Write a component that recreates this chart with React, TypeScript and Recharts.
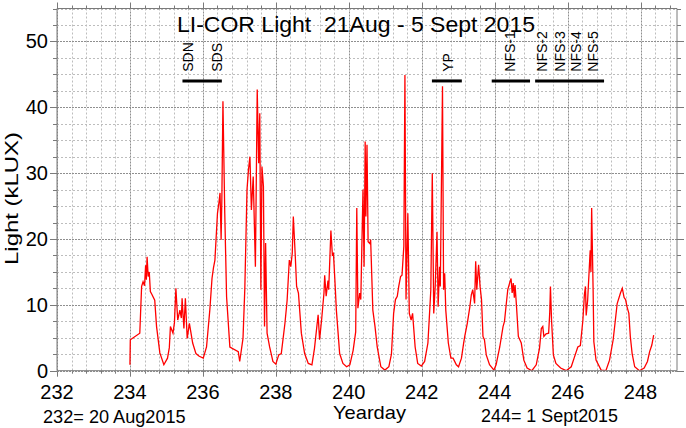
import React from "react";
import { LineChart, Line, XAxis, YAxis, ReferenceLine, ReferenceDot } from "recharts";

// [yearday, kLUX], one array per day
const day234: number[][] = [
  [234.0, 0.9], [234.01, 4.7], [234.27, 5.7], [234.32, 12.8], [234.36, 13.5], [234.4, 12.9],
  [234.43, 16.0], [234.45, 13.8], [234.47, 17.3], [234.5, 14.3], [234.53, 15.0], [234.56, 12.0],
  [234.6, 11.6], [234.68, 10.7], [234.73, 6.7], [234.82, 2.7], [234.93, 0.9],
];
const day235: number[][] = [
  [235.03, 1.9], [235.08, 3.5], [235.11, 6.7], [235.18, 5.7], [235.22, 7.3], [235.26, 12.5],
  [235.31, 7.7], [235.37, 9.2], [235.41, 8.0], [235.43, 11.0], [235.48, 6.4], [235.52, 11.0],
  [235.57, 4.9], [235.63, 7.2], [235.72, 4.2], [235.81, 2.6], [235.9, 2.2],
];
const day236: number[][] = [
  [236.01, 1.9], [236.1, 3.6], [236.19, 9.2], [236.25, 14.0], [236.29, 15.6], [236.33, 16.8],
  [236.4, 23.9], [236.44, 25.5], [236.47, 27.0], [236.5, 19.9], [236.52, 26.0], [236.55, 40.9],
  [236.6, 23.9], [236.65, 11.2], [236.74, 3.6], [236.97, 2.9],
];
const day237: number[][] = [
  [237.01, 1.4], [237.1, 4.9], [237.15, 12.5], [237.21, 27.5], [237.25, 30.5], [237.29, 32.5],
  [237.33, 24.4], [237.38, 29.5], [237.44, 15.8], [237.49, 42.7], [237.53, 31.5], [237.56, 39.1],
  [237.59, 12.3], [237.62, 31.0], [237.66, 28.0], [237.69, 6.7], [237.72, 19.4], [237.76, 5.7],
  [237.83, 3.6], [237.92, 1.4],
];
const day238: number[][] = [
  [238.0, 1.0], [238.08, 2.4], [238.15, 2.6], [238.25, 7.2], [238.31, 10.7], [238.37, 16.8],
  [238.41, 15.8], [238.45, 17.8], [238.48, 23.4], [238.53, 17.8], [238.57, 12.8], [238.62, 11.8],
  [238.7, 5.7], [238.79, 2.6], [238.89, 1.1],
];
const day239: number[][] = [
  [238.99, 0.9], [239.06, 3.4], [239.16, 8.5], [239.2, 4.7], [239.26, 8.0], [239.32, 11.8],
  [239.34, 14.5], [239.38, 11.3], [239.43, 13.7], [239.45, 12.3], [239.51, 21.3], [239.55, 17.6],
  [239.58, 17.8], [239.62, 13.7], [239.66, 9.2], [239.75, 2.6], [239.84, 1.1], [239.94, 0.6],
];
const day240: number[][] = [
  [240.03, 0.9], [240.12, 3.1], [240.19, 5.9], [240.22, 24.7], [240.25, 9.5], [240.3, 11.8],
  [240.33, 10.8], [240.39, 27.5], [240.42, 15.8], [240.45, 34.8], [240.47, 23.4], [240.5, 34.3],
  [240.53, 19.6], [240.58, 19.3], [240.6, 19.9], [240.66, 9.2], [240.72, 6.7], [240.78, 3.6],
  [240.88, 0.6],
];
const day241: number[][] = [
  [240.99, 0.1], [241.1, 0.6], [241.17, 2.5], [241.23, 8.7], [241.28, 10.8], [241.33, 11.3],
  [241.37, 12.8], [241.42, 14.3], [241.46, 14.5], [241.51, 18.9], [241.54, 44.9], [241.57, 10.8],
  [241.62, 23.9], [241.66, 8.7], [241.71, 7.7], [241.75, 8.7], [241.82, 3.6], [241.89, 1.1],
];
const day242: number[][] = [
  [241.99, 0.7], [242.08, 1.4], [242.17, 4.2], [242.22, 9.2], [242.25, 12.3], [242.29, 30.0],
  [242.33, 8.7], [242.37, 12.8], [242.42, 21.1], [242.45, 9.7], [242.49, 15.8], [242.51, 12.8],
  [242.57, 43.2], [242.6, 12.3], [242.63, 14.8], [242.66, 9.2], [242.73, 4.2], [242.8, 1.9],
  [242.86, 1.9], [242.95, 0.9],
];
const day243: number[][] = [
  [243.01, 0.6], [243.09, 1.9], [243.15, 4.2], [243.18, 5.2], [243.25, 7.2], [243.32, 9.7],
  [243.36, 11.5], [243.4, 12.3], [243.45, 10.2], [243.48, 16.6], [243.51, 12.3], [243.56, 16.1],
  [243.6, 12.8], [243.64, 10.8], [243.68, 5.2], [243.72, 4.7], [243.77, 2.4], [243.86, 0.9],
];
const day244: number[][] = [
  [243.98, 0.1], [244.04, 0.9], [244.14, 3.6], [244.23, 6.7], [244.27, 7.5], [244.32, 10.2],
  [244.36, 12.3], [244.41, 13.3], [244.45, 14.0], [244.48, 11.8], [244.51, 13.3], [244.54, 11.1],
  [244.56, 13.0], [244.6, 9.7], [244.65, 5.2], [244.73, 4.2], [244.8, 1.6], [244.89, 0.4],
];
const day245: number[][] = [
  [245.02, 0.0], [245.14, 0.9], [245.23, 3.4], [245.28, 6.4], [245.32, 6.7], [245.35, 5.2],
  [245.41, 5.6], [245.48, 5.7], [245.51, 8.7], [245.53, 12.8], [245.56, 7.7], [245.61, 2.4],
  [245.68, 1.1], [245.81, 0.4],
];
const day246: number[][] = [
  [245.96, 0.0], [246.1, 0.6], [246.19, 2.1], [246.28, 3.6], [246.35, 3.8], [246.42, 7.7],
  [246.46, 11.5], [246.49, 12.8], [246.51, 8.4], [246.55, 10.7], [246.62, 18.3], [246.64, 15.0],
  [246.66, 24.7], [246.7, 12.3], [246.72, 4.4], [246.78, 1.6], [246.92, 0.1],
];
const day247: number[][] = [
  [247.05, 0.0], [247.15, 1.6], [247.25, 4.7], [247.31, 7.7], [247.36, 10.2], [247.45, 11.8],
  [247.5, 12.5], [247.55, 11.1], [247.59, 10.8], [247.63, 9.7], [247.68, 8.7], [247.72, 5.2],
  [247.77, 2.6], [247.84, 0.6],
];
const day248: number[][] = [
  [247.97, 0.0], [248.1, 0.4], [248.19, 1.4], [248.25, 2.9], [248.31, 3.9], [248.36, 5.4],
];

// site bars: [from, to] in yearday
const barSDN = [235.44, 236.52];
const barYP = [242.28, 243.1];
const barNFS1 = [243.92, 244.97];
const barNFS2to5 = [245.11, 247.0];
const siteBars = [barSDN, barYP, barNFS1, barNFS2to5];
const siteBarLevel = 44;

const siteNames = ["SDN", "SDS", "YP", "NFS-1", "NFS-2", "NFS-3", "NFS-4", "NFS-5"];
const siteDays = [235.58, 236.38, 242.73, 244.42, 245.31, 245.79, 246.24, 246.7];
const siteLabelLevel = 45.4;

const X_MIN = 232;
const X_MAX = 249;
const Y_MAX = 55;
const xMajorTicks = [232, 234, 236, 238, 240, 242, 244, 246, 248];
const yMajorTicks = [0, 10, 20, 30, 40, 50];
const xTicks = Array.from({ length: 43 }, (_, i) => +(232 + i * 0.4).toFixed(1));
const yTicks = Array.from({ length: 23 }, (_, i) => i * 2.5);

const series = [
  day234, day235, day236, day237, day238, day239, day240, day241,
  day242, day243, day244, day245, day246, day247, day248,
].flat().map(([day, lux]) => ({ day, lux }));

const FONT = "'Liberation Sans', Arial, sans-serif";
const AXIS = "#7a7a7a";
const GRID_MINOR = "#bdbdbd";
const GRID_MAJOR = "#8f8f8f";

const snap = (v: number) => Math.round(v) + 0.5;

// vertical grid line + tick marks at top and bottom
const VGrid = (major: boolean) => (p: any) => {
  const x = snap(p.x1);
  const top = Math.min(p.y1, p.y2);
  const bot = Math.max(p.y1, p.y2);
  const len = major ? 6 : 3;
  return (
    <g>
      <line x1={x} y1={top} x2={x} y2={bot} stroke={major ? GRID_MAJOR : GRID_MINOR} strokeDasharray={major ? "2 1" : "2 2"} />
      <line x1={x} y1={top} x2={x} y2={top - len} stroke={AXIS} />
      <line x1={x} y1={bot} x2={x} y2={bot + len} stroke={AXIS} />
    </g>
  );
};

// horizontal grid line + tick marks at left and right
const HGrid = (major: boolean) => (p: any) => {
  const y = snap(p.y1);
  const left = Math.min(p.x1, p.x2);
  const right = Math.max(p.x1, p.x2);
  const len = major ? 7 : 4;
  return (
    <g>
      <line x1={left} y1={y} x2={right} y2={y} stroke={major ? GRID_MAJOR : GRID_MINOR} strokeDasharray={major ? "2 1" : "2 2"} />
      <line x1={left} y1={y} x2={left - len} y2={y} stroke={AXIS} />
      <line x1={right} y1={y} x2={right + len} y2={y} stroke={AXIS} />
    </g>
  );
};

const BottomLabel = (p: any) =>
  xMajorTicks.includes(p.payload.value) ? (
    <text x={p.x} y={p.y + 28} textAnchor="middle" fontSize={20} fontFamily={FONT} fill="#000">
      {p.payload.value}
    </text>
  ) : (
    <g />
  );

const LeftLabel = (p: any) =>
  yMajorTicks.includes(p.payload.value) ? (
    <text x={p.x - 9} y={p.y + 7} textAnchor="end" fontSize={20} fontFamily={FONT} fill="#000">
      {p.payload.value}
    </text>
  ) : (
    <g />
  );

const SiteLabel = (text: string) => (p: any) => (
  <text
    x={p.cx}
    y={p.cy}
    dy="0.36em"
    transform={`rotate(-90 ${p.cx} ${p.cy})`}
    fontSize={14}
    fontFamily={FONT}
    fill="#000"
  >
    {text}
  </text>
);

export default function App() {
  return (
    <div style={{ position: "absolute", left: 0, top: 0, width: 686, height: 428, background: "#fff" }}>
      <LineChart
        width={686}
        height={428}
        data={series}
        margin={{ top: 8.5, right: 9, bottom: 27.3, left: 0 }}
      >
        <XAxis
          dataKey="day"
          type="number"
          domain={[X_MIN, X_MAX]}
          ticks={xMajorTicks}
          interval={0}
          height={30}
          tickSize={0}
          tickMargin={0}
          tickLine={false}
          axisLine={{ stroke: AXIS }}
          tick={BottomLabel}
          allowDataOverflow
        />
        <YAxis
          type="number"
          domain={[0, Y_MAX]}
          ticks={yMajorTicks}
          interval={0}
          width={57}
          tickSize={0}
          tickMargin={0}
          tickLine={false}
          axisLine={{ stroke: AXIS }}
          tick={LeftLabel}
          allowDataOverflow
        />
        {xTicks.map((v) => (
          <ReferenceLine key={"vx" + v} x={v} shape={VGrid(xMajorTicks.includes(v))} />
        ))}
        {yTicks.map((v) => (
          <ReferenceLine key={"hy" + v} y={v} shape={HGrid(yMajorTicks.includes(v))} />
        ))}
        <ReferenceLine x={X_MAX} stroke={AXIS} />
        <ReferenceLine y={Y_MAX} stroke={AXIS} />
        <Line
          dataKey="lux"
          type="linear"
          stroke="#ff0000"
          strokeWidth={1.3}
          dot={false}
          isAnimationActive={false}
        />
        {siteBars.map(([a, b]) => (
          <ReferenceLine
            key={"bar" + a}
            segment={[{ x: a, y: siteBarLevel }, { x: b, y: siteBarLevel }]}
            stroke="#000"
            strokeWidth={3}
          />
        ))}
        {siteNames.map((name, i) => (
          <ReferenceDot
            key={name}
            x={siteDays[i]}
            y={siteLabelLevel}
            r={0}
            shape={SiteLabel(name)}
          />
        ))}
      </LineChart>
      <svg
        width={686}
        height={428}
        style={{ position: "absolute", left: 0, top: 0, pointerEvents: "none" }}
        fontFamily={FONT}
      >
        <text x={177} y={31.5} fontSize={22} textLength={358} lengthAdjust="spacingAndGlyphs" xmlSpace="preserve" style={{ whiteSpace: "pre" }}>
          LI-COR Light  21Aug - 5 Sept 2015
        </text>
        <text
          x={18.3}
          y={198.5}
          transform="rotate(-90 18.3 198.5)"
          textAnchor="middle"
          fontSize={19}
          textLength={133}
          lengthAdjust="spacingAndGlyphs"
        >
          Light (kLUX)
        </text>
        <text x={333} y={419} fontSize={19} textLength={73} lengthAdjust="spacingAndGlyphs">
          Yearday
        </text>
        <text x={43} y={422.5} fontSize={18} textLength={142.7} lengthAdjust="spacingAndGlyphs">
          232= 20 Aug2015
        </text>
        <text x={481} y={422} fontSize={18} textLength={137} lengthAdjust="spacingAndGlyphs">
          244= 1 Sept2015
        </text>
      </svg>
    </div>
  );
}
